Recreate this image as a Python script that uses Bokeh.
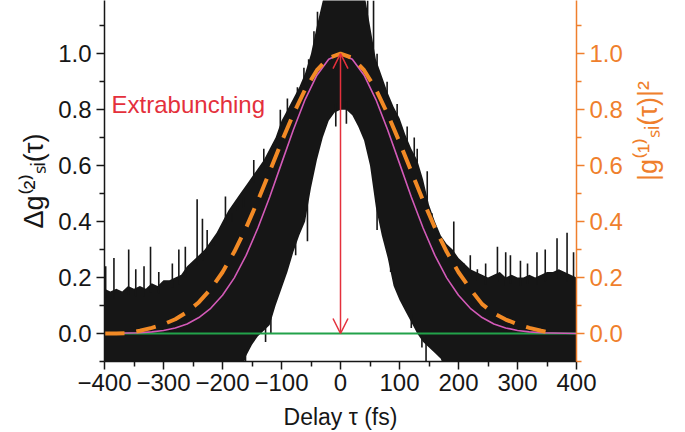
import math
import numpy as np
from bokeh.plotting import figure
from bokeh.models import Range1d, LinearAxis, FixedTicker, Label, Arrow, OpenHead
from bokeh.embed import file_html
from bokeh.resources import INLINE

# ---------------- data ----------------
delay_fs = [-400, -390, -380, -370, -360, -350, -340, -330, -320, -310,
            -300, -290, -280, -270, -260, -250, -240, -230, -220, -210,
            -200, -190, -180, -170, -160, -150, -140, -130, -120, -110,
            -100, -90, -80, -70, -60, -50, -40, -30, -20, -10,
            0, 10, 20, 30, 40, 50, 60, 70, 80, 90,
            100, 110, 120, 130, 140, 150, 160, 170, 180, 190,
            200, 210, 220, 230, 240, 250, 260, 270, 280, 290,
            300, 310, 320, 330, 340, 350, 360, 370, 380, 390, 400]

# upper edge of the dense noisy Δg(2) trace
noise_upper = [0.16, 0.15, 0.16, 0.15, 0.17, 0.16, 0.17, 0.16, 0.18, 0.17,
               0.19, 0.19, 0.20, 0.21, 0.24, 0.26, 0.28, 0.30, 0.33, 0.36,
               0.40, 0.44, 0.47, 0.50, 0.53, 0.56, 0.59, 0.62, 0.66, 0.70,
               0.76, 0.80, 0.84, 0.88, 0.93, 1.00, 1.10, 1.19, 1.25, 1.25,
               1.25, 1.25, 1.25, 1.25, 1.22, 1.10, 0.98, 0.92, 0.86, 0.81,
               0.77, 0.71, 0.66, 0.62, 0.55, 0.46, 0.40, 0.35, 0.32, 0.30,
               0.27, 0.25, 0.23, 0.22, 0.21, 0.20, 0.21, 0.22, 0.20, 0.21,
               0.20, 0.20, 0.21, 0.20, 0.21, 0.22, 0.22, 0.23, 0.22, 0.21, 0.20]

# lower edge of the dense noisy trace
noise_lower = [-0.15, -0.15, -0.15, -0.15, -0.15, -0.15, -0.15, -0.15, -0.15, -0.15,
               -0.15, -0.15, -0.15, -0.15, -0.15, -0.15, -0.15, -0.15, -0.15, -0.15,
               -0.15, -0.15, -0.15, -0.15, -0.08, -0.04, -0.01, 0.01, 0.03, 0.10,
               0.16, 0.22, 0.29, 0.35, 0.40, 0.52, 0.62, 0.70, 0.76, 0.79,
               0.80, 0.80, 0.78, 0.74, 0.69, 0.60, 0.45, 0.35, 0.27, 0.17,
               0.12, 0.08, 0.04, 0.00, -0.03, -0.05, -0.07, -0.09, -0.15, -0.15,
               -0.15, -0.15, -0.15, -0.15, -0.15, -0.15, -0.15, -0.15, -0.15, -0.15,
               -0.15, -0.15, -0.15, -0.15, -0.15, -0.15, -0.15, -0.15, -0.15, -0.15, -0.15]

# isolated upward spikes of the trace
spike_t = [-398, -384, -359, -347, -333, -322, -308, -285, -274, -263,
           -243, -234, -226, -215, -195, -184, -175, -164, -147, -130,
           -102, -90, -73, -62, -54, -45, -39, 46, 56, 62,
           79, 96, 113, 125, 130, 147, 155, 192, 209, 220,
           232, 246, 266, 280, 288, 305, 317, 333, 347, 367, 384, 395]
spike_v = [0.24, 0.27, 0.30, 0.23, 0.24, 0.31, 0.22, 0.25, 0.30, 0.31,
           0.48, 0.41, 0.37, 0.33, 0.49, 0.40, 0.44, 0.45, 0.62, 0.66,
           0.80, 0.84, 0.88, 0.95, 0.98, 1.08, 1.15, 1.19, 1.19, 1.00,
           0.90, 0.82, 0.74, 0.70, 0.66, 0.58, 0.43, 0.40, 0.25, 0.28,
           0.23, 0.25, 0.31, 0.29, 0.28, 0.26, 0.25, 0.29, 0.30, 0.34, 0.36, 0.29]

# isolated downward spikes of the trace
dip_t = [-166, -161, -127, -118, -76, -56, -8, 10, 62, 85, 120, 138, 145]
dip_v = [-0.15, -0.15, -0.03, 0.00, 0.28, 0.33, 0.74, 0.75, 0.37, 0.22, 0.02, -0.05, -0.10]

# magenta curve (Δg(2) fit)
fit_t = [-400, -380, -360, -340, -320, -300, -280, -260, -240, -220,
         -200, -180, -160, -140, -120, -100, -80, -60, -40, -20,
         0, 20, 40, 60, 80, 100, 120, 140, 160, 180,
         200, 220, 240, 260, 280, 300, 320, 340, 360, 380, 400]
g2_fit = [0.000, 0.001, 0.002, 0.003, 0.006, 0.011, 0.020, 0.034, 0.057, 0.090,
          0.137, 0.199, 0.279, 0.377, 0.488, 0.608, 0.727, 0.836, 0.923, 0.980,
          1.000, 0.980, 0.923, 0.836, 0.727, 0.608, 0.488, 0.377, 0.279, 0.199,
          0.137, 0.090, 0.057, 0.034, 0.020, 0.011, 0.006, 0.003, 0.002, 0.001, 0.000]

# orange dashed curve |g(1)|^2
g1_t = [-400, -380, -360, -340, -320, -300, -280, -260, -240, -220,
        -200, -180, -160, -140, -120, -100, -80, -60, -40, -20,
        0, 20, 40, 60, 80, 100, 120, 140, 160, 180,
        200, 220, 240, 260, 280, 300, 320, 340, 355]
g1_sq = [0.000, 0.000, 0.001, 0.010, 0.020, 0.033, 0.051, 0.077, 0.112, 0.159,
         0.219, 0.292, 0.378, 0.475, 0.579, 0.684, 0.784, 0.872, 0.941, 0.985,
         1.000, 0.985, 0.941, 0.872, 0.784, 0.684, 0.579, 0.475, 0.378, 0.292,
         0.219, 0.159, 0.105, 0.072, 0.050, 0.033, 0.020, 0.010, 0.003]

baseline_level = 0.0
arrow_delay = 0.0
arrow_top = 1.0
arrow_bottom = 0.0

xticks = [-400, -300, -200, -100, 0, 100, 200, 300, 400]
xtick_labels = ["\u2212400", "\u2212300", "\u2212200", "\u2212100", "0", "100", "200", "300", "400"]
xminor = [-350, -250, -150, -50, 50, 150, 250, 350]
yticks = [0.0, 0.2, 0.4, 0.6, 0.8, 1.0]
ytick_labels = ["0.0", "0.2", "0.4", "0.6", "0.8", "1.0"]
yminor = [-0.1, 0.1, 0.3, 0.5, 0.7, 0.9, 1.1]

# ---------------- styling ----------------
FONT = "Liberation Sans"
BLACK = "#161616"
ORANGE_AXIS = "#ef7f2d"
ORANGE_LINE = "#f28a25"
MAGENTA = "#d35ab8"
GREEN = "#22a24a"
RED = "#e4303c"

p = figure(frame_width=472, frame_height=361,
           min_border_left=104, min_border_right=109, min_border_top=0, min_border_bottom=71,
           x_range=Range1d(-400, 400), y_range=Range1d(-0.1, 1.19),
           output_backend="svg", toolbar_location=None, x_axis_location=None,
           y_axis_location=None)
p.outline_line_color = None
p.xgrid.grid_line_color = None
p.ygrid.grid_line_color = None
p.background_fill_color = "white"
p.border_fill_color = "white"

t = np.array(delay_fs, dtype=float)
up = np.array(noise_upper)
lo = np.array(noise_lower)

p.varea(x=t, y1=lo, y2=up, fill_color=BLACK)
st = np.array(spike_t, dtype=float)
p.segment(x0=st, y0=np.interp(st, t, up) - 0.03, x1=st, y1=spike_v,
          line_color=BLACK, line_width=1.6)
dt = np.array(dip_t, dtype=float)
p.segment(x0=dt, y0=np.interp(dt, t, lo) + 0.03, x1=dt, y1=dip_v,
          line_color=BLACK, line_width=1.6)

p.line(x=[-400, 400], y=[baseline_level, baseline_level], line_color=GREEN, line_width=2)
p.line(x=fit_t, y=g2_fit, line_color=MAGENTA, line_width=1.6)
p.line(x=g1_t, y=g1_sq, line_color=ORANGE_LINE, line_width=4, line_dash="20 12")

head_s = OpenHead(size=15, line_color=RED, line_width=1.5)
head_e = OpenHead(size=15, line_color=RED, line_width=1.5)
p.add_layout(Arrow(start=head_s, end=head_e, x_start=arrow_delay, y_start=arrow_top,
                   x_end=arrow_delay, y_end=arrow_bottom, line_color=RED, line_width=1.5))

p.add_layout(Label(x=-388, y=0.82, text="Extrabunching", text_color=RED,
                   text_font=FONT, text_font_size="24px", text_baseline="alphabetic"))


def style_axis(ax, color, label_size):
    ax.axis_line_color = color
    ax.axis_line_width = 1.5
    ax.major_tick_line_color = color
    ax.minor_tick_line_color = color
    ax.major_tick_line_width = 1.5
    ax.minor_tick_line_width = 1.5
    ax.major_tick_out = 8
    ax.major_tick_in = 0
    ax.minor_tick_out = 5
    ax.minor_tick_in = 0
    ax.major_label_text_color = color
    ax.major_label_text_font = FONT
    ax.major_label_text_font_size = "24px"
    ax.axis_label_text_color = color
    ax.axis_label_text_font = FONT
    ax.axis_label_text_font_size = label_size
    ax.axis_label_text_font_style = "normal"


xax = LinearAxis(ticker=FixedTicker(ticks=xticks, minor_ticks=xminor),
                 axis_label="Delay \u03c4 (fs)")
xax.major_label_overrides = {v: s for v, s in zip(xticks, xtick_labels)}
style_axis(xax, BLACK, "23px")
xax.major_label_standoff = 4
xax.axis_label_standoff = 10
p.add_layout(xax, "below")

yl = LinearAxis(ticker=FixedTicker(ticks=yticks, minor_ticks=yminor),
                axis_label="\u0394g\u207d\u00b2\u207e\u209b\u1d62(\u03c4)")
yl.major_label_overrides = {v: s for v, s in zip(yticks, ytick_labels)}
style_axis(yl, BLACK, "27px")
yl.major_label_standoff = 5
yl.axis_label_standoff = 6
p.add_layout(yl, "left")

yr = LinearAxis(ticker=FixedTicker(ticks=yticks, minor_ticks=yminor),
                axis_label="|g\u207d\u00b9\u207e\u209b\u1d62(\u03c4)|\u00b2")
yr.major_label_overrides = {v: s for v, s in zip(yticks, ytick_labels)}
style_axis(yr, ORANGE_AXIS, "27px")
yr.major_label_standoff = 5
yr.axis_label_standoff = 22
yr.axis_label_orientation = math.pi / 2
p.add_layout(yr, "right")

open("out.html", "w").write(file_html(p, INLINE))
